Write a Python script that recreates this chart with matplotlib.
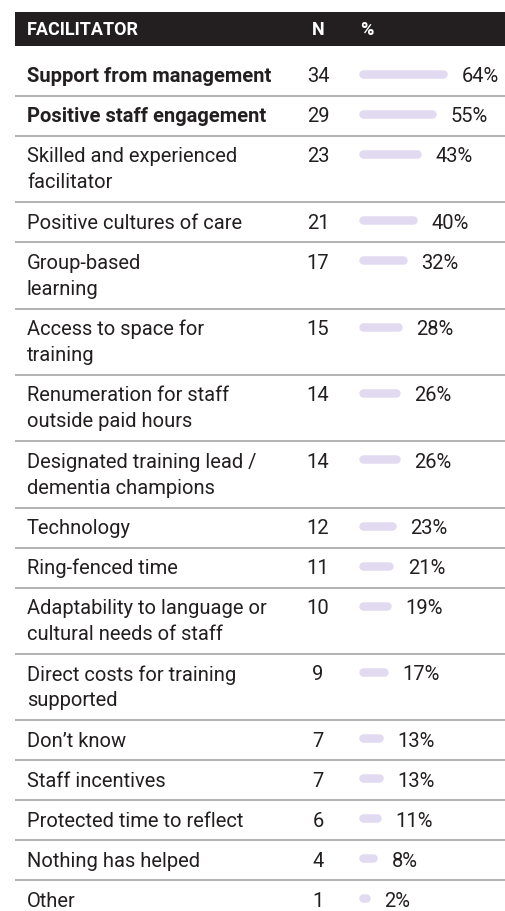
import matplotlib
matplotlib.use('Agg')
import matplotlib.pyplot as plt

# table content
labels = [
    'Support from management',
    'Positive staff engagement',
    'Skilled and experienced\nfacilitator',
    'Positive cultures of care',
    'Group-based\nlearning',
    'Access to space for\ntraining',
    'Renumeration for staff\noutside paid hours',
    'Designated training lead /\ndementia champions',
    'Technology',
    'Ring-fenced time',
    'Adaptability to language or\ncultural needs of staff',
    'Direct costs for training\nsupported',
    'Don\u2019t know',
    'Staff incentives',
    'Protected time to reflect',
    'Nothing has helped',
    'Other',
]
counts = [34, 29, 23, 21, 17, 15, 14, 14, 12, 11, 10, 9, 7, 7, 6, 4, 1]
percents = [64, 55, 43, 40, 32, 28, 26, 26, 23, 21, 19, 17, 13, 13, 11, 8, 2]
bold_rows = [True, True] + [False] * 15
headers = ['FACILITATOR', 'N', '%']

W, H = 506, 912
DARK = '#231f20'
BAR = '#e2daf1'
GRID = '#a6a6a6'
FONT = 'Roboto'

fig = plt.figure(figsize=(W / 100, H / 100), dpi=100)
ax = fig.add_axes([0, 0, 1, 1])
ax.set_xlim(0, W)
ax.set_ylim(H, 0)
ax.axis('off')

# column layout (pixels)
x_left, x_right = 15, W
x_lab, x_n, x_bar = 27, 318, 359
bar_px = 8.5
px_per_pct = 1.25
line_gap = 26

# header band
head_top, head_bot = 13, 47
ax.fill_between([x_left, x_right], head_top, head_bot, color=DARK, lw=0)
head_y = (head_top + head_bot) / 2
ax.text(x_lab, head_y, headers[0], color='white', fontsize=13, fontweight='bold',
        family=FONT, va='center', ha='left')
ax.text(x_n, head_y, headers[1], color='white', fontsize=13, fontweight='bold',
        family=FONT, va='center', ha='center')
ax.text(x_bar + 1, head_y, headers[2], color='white', fontsize=13, fontweight='bold',
        family=FONT, va='center', ha='left')

top = head_bot + 10
for lab, n, p, b in zip(labels, counts, percents, bold_rows):
    lines = lab.split('\n')
    h = 40 if len(lines) == 1 else 66.3
    y0 = top + 20
    for i, ln in enumerate(lines):
        ax.text(x_lab, y0 + i * line_gap, ln, color=DARK, fontsize=14.5,
                fontweight='bold' if b else 'normal', family=FONT,
                va='center', ha='left')
    ax.text(x_n, y0, str(n), color=DARK, fontsize=14.5, family=FONT,
            va='center', ha='center')
    x_start = x_bar + bar_px / 2
    x_end = x_start + p * px_per_pct
    ax.plot([x_start, x_end], [y0 - 2, y0 - 2], color=BAR, lw=bar_px * 0.72,
            solid_capstyle='round')
    ax.text(x_end + bar_px / 2 + 14, y0, f'{p}%', color=DARK, fontsize=14.5,
            family=FONT, va='center', ha='left')
    top += h
    ax.plot([x_left, x_right], [top, top], color=GRID, lw=1.2,
            solid_capstyle='butt')

fig.savefig('out.png', dpi=100, facecolor='white')
